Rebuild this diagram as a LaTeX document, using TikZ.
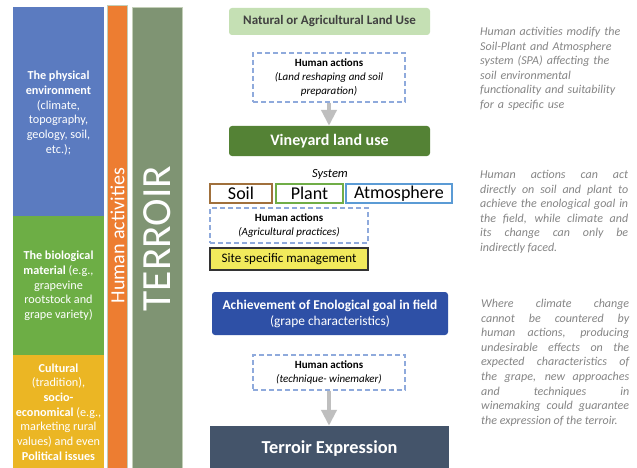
\documentclass[tikz,border=0pt]{standalone}
\usepackage{fontspec}
\setmainfont{Carlito}
\usetikzlibrary{arrows.meta,backgrounds}
\definecolor{physblue}{HTML}{5B7BC0}
\definecolor{biogreen}{HTML}{6DAE45}
\definecolor{cultyellow}{HTML}{EBB624}
\definecolor{humorange}{HTML}{ED7D31}
\definecolor{terrbar}{HTML}{7F9473}
\definecolor{barborder}{HTML}{C3CFB8}
\definecolor{natgreen}{HTML}{C5E0B4}
\definecolor{vinegreen}{HTML}{548235}
\definecolor{achblue}{HTML}{2E50A6}
\definecolor{terrexp}{HTML}{44546A}
\definecolor{dashblue}{HTML}{8FAADC}
\definecolor{soilbrown}{HTML}{A0703C}
\definecolor{plantgreen}{HTML}{70AD47}
\definecolor{atmblue}{HTML}{5B9BD5}
\definecolor{siteyellow}{HTML}{F2EA5C}
\definecolor{txtgray}{HTML}{858585}
\definecolor{arrowgray}{HTML}{BFBFBF}
\definecolor{dark}{HTML}{404040}
\begin{document}
\begin{tikzpicture}[x=1pt,y=-1pt,
  lefttext/.style={text=white, align=center, inner sep=0pt, font=\fontsize{12.2}{14.7}\selectfont},
  righttext/.style={text=txtgray, text width=148pt, inner sep=0pt, anchor=north west, font=\fontsize{12}{14.6}\selectfont\itshape},
  flowbox/.style={inner sep=0pt, align=center, rounded corners=3pt},
  dashbox/.style={draw=dashblue, line width=1.1pt, dash pattern=on 5pt off 3pt, fill=white, inner sep=0pt, align=center, font=\fontsize{11}{14}\selectfont},
  spabox/.style={draw, line width=1.1pt, fill=white, inner sep=0pt, minimum height=19pt, font=\fontsize{18}{20}\selectfont},
  connector/.style={draw=arrowgray, line width=4pt},
  bigarrow/.style={draw=arrowgray, line width=4pt, -{Triangle[width=15pt,length=16pt]}}
]
\useasboundingbox (0,0) rectangle (637,468);
\fill[white] (0,0) rectangle (637,468);

% left column
\fill[physblue] (13,7) rectangle (104,216);
\fill[biogreen] (13,216) rectangle (104,355);
\fill[cultyellow] (13,355) rectangle (104,468);
\node[lefttext] (phys) at (58.5,113) {\textbf{The physical}\\\textbf{environment}\\(climate,\\topography,\\geology, soil,\\etc.);};
\node[lefttext] (bio) at (58.5,286) {\textbf{The biological}\\\textbf{material} (e.g.,\\grapevine\\rootstock and\\grape variety)};
\node[lefttext] (cult) at (58.5,412) {\textbf{Cultural}\\(tradition),\\\textbf{socio-}\\\textbf{economical} (e.g.,\\marketing rural\\values) and even\\\textbf{Political issues}};

% bars
\filldraw[fill=humorange, draw=barborder, line width=0.8pt] (107,5) rectangle (127,470);
\filldraw[fill=terrbar, draw=barborder, line width=0.8pt] (132,7) rectangle (182,470);
\node[text=white, rotate=90, inner sep=0pt, font=\fontsize{20}{22}\selectfont] (humact) at (117.5,235.5) {Human activities};
\node[text=white, rotate=90, inner sep=0pt, font=\fontsize{41.5}{44}\selectfont] (terroir) at (157.5,238.5) {TERROIR};

% flow
\node[flowbox, fill=natgreen, text=dark, minimum width=201pt, minimum height=27pt, font=\bfseries\fontsize{13}{15}\selectfont] (nat) at (329.5,21.5) {Natural or Agricultural Land Use};
\node[dashbox, minimum width=152pt, minimum height=49pt] (ha1) at (329,77.5) {\textbf{Human actions}\\\textit{(Land reshaping and soil}\\\textit{preparation)}};
\node[flowbox, fill=vinegreen, text=white, minimum width=201pt, minimum height=30pt, font=\bfseries\fontsize{16}{18}\selectfont] (vine) at (329.5,141) {Vineyard land use};
\node[fill=white, inner sep=1pt, font=\itshape\fontsize{12.5}{14}\selectfont] (sys) at (330,174) {System};
\node[spabox, draw=soilbrown, minimum width=62pt] (soil) at (241,193.5) {Soil};
\node[spabox, draw=plantgreen, minimum width=67pt] (plant) at (309.5,193.5) {Plant};
\node[spabox, draw=atmblue, minimum width=106pt] (atm) at (399,193.5) {Atmosphere};
\node[dashbox, minimum width=158pt, minimum height=35pt] (ha2) at (289,225.5) {\textbf{Human actions}\\\textit{(Agricultural practices)}};
\node[draw=black!80, line width=1.1pt, fill=siteyellow, inner sep=0pt, minimum width=158pt, minimum height=22pt, font=\fontsize{13}{15}\selectfont] (site) at (289,259) {Site specific management};
\node[flowbox, fill=achblue, text=white, minimum width=236pt, minimum height=43pt, font=\fontsize{13.4}{16}\selectfont] (ach) at (330,313.5) {\textbf{Achievement of Enological goal in field}\\(grape characteristics)};
\node[dashbox, minimum width=152pt, minimum height=35pt] (ha3) at (329,372.5) {\textbf{Human actions}\\\textit{(technique- winemaker)}};
\node[fill=terrexp, text=white, inner sep=0pt, minimum width=239pt, minimum height=46pt, font=\bfseries\fontsize{18.3}{20}\selectfont] (texp) at (329.5,449) {Terroir Expression};

\begin{scope}[on background layer]
\draw[connector] (nat.south) -- (nat.south |- ha1.north);
\draw[connector] (vine.south) -- (vine.south |- ach.north);
\draw[connector] (ach.south) -- (ach.south |- ha3.north);
\end{scope}
\draw[bigarrow] (ha1.south) -- (ha1.south |- vine.north);
\draw[bigarrow] (ha3.south) -- (ha3.south |- texp.north);

% right texts
\node[righttext, align=left] (t1) at (480,27) {Human activities modify the\\Soil-Plant and Atmosphere\\system (SPA) affecting the\\soil environmental\\functionality and suitability\\for a specific use};
\node[righttext, align=justify] (t2) at (480,170) {Human actions can act\linebreak directly on soil and plant to\linebreak achieve the enological goal in\linebreak the field, while climate and\linebreak its change can only be\linebreak indirectly faced.};
\node[righttext, align=justify] (t3) at (481,299) {Where climate change\linebreak cannot be countered by\linebreak human actions, producing\linebreak undesirable effects on the\linebreak expected characteristics of\linebreak the grape, new approaches\linebreak and techniques in\linebreak winemaking could guarantee\linebreak the expression of the terroir.};
\end{tikzpicture}
\end{document}
